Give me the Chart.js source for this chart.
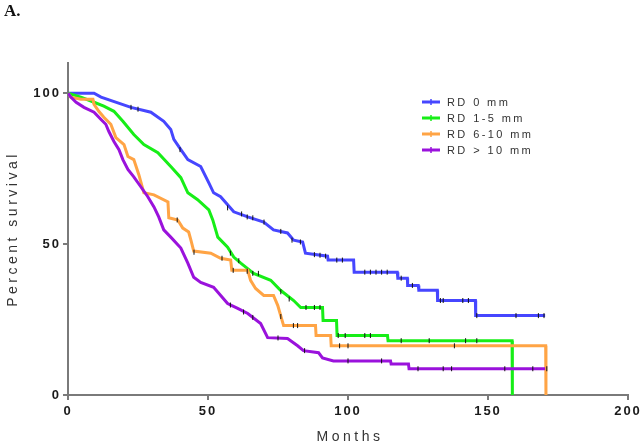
<!DOCTYPE html>
<html>
<head>
<meta charset="utf-8">
<script src="https://cdn.jsdelivr.net/npm/chart.js@4.4.0/dist/chart.umd.min.js"></script>
<style>
  html, body { margin: 0; padding: 0; background: #fff; }
</style>
</head>
<body>
<canvas id="kmChart" width="644" height="446"></canvas>
<script>
// Kaplan-Meier curves (months, percent survival)
const groupLabels = ['RD 0 mm', 'RD 1-5 mm', 'RD 6-10 mm', 'RD > 10 mm'];
const groupColors = ['#4646ff', '#17ee17', '#ffa445', '#9a12dc'];

const rd0Months = [0, 9.3, 11.8, 22.5, 29.6, 34.2, 36.7, 37.8, 40.3, 42.8, 47.4, 50.3, 52, 54.5, 59.2, 64.2, 69.9, 73.4, 78.4, 80.6, 83.8, 84.8, 92.7, 92.9, 102, 102.2, 117.6, 117.8, 121.2, 121.3, 125.1, 125.3, 131.9, 132, 145.5, 145.6, 170.4];
const rd0Survival = [100, 100, 98.7, 95.3, 93.7, 90.7, 88, 84.7, 81.3, 78, 75.7, 70.3, 67, 65.7, 60.7, 59, 57.3, 54.7, 53.7, 51.3, 50.7, 47, 46, 44.7, 44.7, 40.7, 40.7, 38.7, 38.7, 36.3, 36.3, 34.7, 34.7, 31.3, 31.3, 26.3, 26.3];

const rd15Months = [0, 4.6, 9.3, 12.8, 16.4, 19.6, 23.5, 27.1, 32.1, 36.7, 40.3, 42.8, 46.3, 50.3, 51.7, 53.5, 57, 59.2, 61.7, 66.3, 72.4, 75.9, 80.6, 83.1, 90.9, 91.1, 95.9, 96.1, 114.1, 114.3, 158.6, 158.7];
const rd15Survival = [100, 98.7, 97, 95.7, 94, 90.7, 86.3, 83, 80.3, 75.7, 72, 67, 64.7, 61.3, 58, 52.3, 49, 45.7, 43.7, 40.3, 38, 34.7, 31.3, 29, 29, 24.7, 24.7, 19.7, 19.7, 18, 18, 0];

const rd610Months = [0, 1, 4.6, 8.9, 9.3, 11, 12.8, 15.3, 17.1, 20, 21.4, 23.5, 25.3, 27.1, 30.7, 35.7, 36, 39.2, 41, 43.1, 43.9, 44.9, 51, 54.5, 58.1, 58.5, 64.2, 65.2, 67, 69.9, 73.4, 74.9, 77, 88.4, 88.6, 93.8, 94, 170.6, 170.7];
const rd610Survival = [100, 98.7, 98, 98, 96.3, 94, 92, 89.7, 85.3, 83, 79, 78, 73, 67, 66.3, 64, 58.7, 58, 55.3, 54, 51.3, 47.7, 47, 45.3, 44.7, 41.3, 41.3, 38, 35.3, 33, 33, 29.7, 23, 23, 19.7, 19.7, 16.3, 16.3, 0];

const rd10Months = [0, 1, 2.9, 5.7, 9.3, 11.8, 13.5, 14.6, 16.4, 18.2, 19.6, 21.4, 23.5, 26, 28.5, 30.7, 32.4, 34.2, 36.7, 40.3, 42.8, 44.9, 47.4, 52, 57, 60.6, 64.2, 68.8, 71.3, 78.4, 82, 84.1, 89.5, 90.9, 94.8, 115.2, 115.4, 121.6, 121.8, 170.4];
const rd10Survival = [100, 98.7, 97, 95.3, 93.7, 91.3, 89.7, 87.3, 84, 81.3, 78, 74.7, 72.3, 69, 65.7, 62.3, 59, 54.7, 52.3, 48.7, 43.7, 39, 37.3, 35.7, 30.3, 28.7, 27, 23.7, 19, 18.7, 16.3, 14.7, 14, 12.3, 11.3, 11.3, 10.3, 10.3, 8.7, 8.7];

// censored observations (black ticks)
const rd0CensorMonths = [22.5, 25, 40, 57, 62, 64, 66, 70, 76, 80, 83, 88, 90, 92, 96, 98, 106, 108, 110, 112, 114, 119, 123, 133, 134, 141, 143, 146, 160, 168, 170];
const rd0CensorSurvival = [95.3, 94.7, 81.3, 62, 60, 59, 58.7, 57.3, 54.2, 51.3, 50.7, 46.5, 46.3, 46, 44.7, 44.7, 40.7, 40.7, 40.7, 40.7, 40.7, 38.7, 36.3, 31.3, 31.3, 31.3, 31.3, 26.3, 26.3, 26.3, 26.3];
const rd15CensorMonths = [58, 61, 64, 66, 68, 76, 79, 85, 88, 90, 96.5, 99, 106, 108, 119, 129, 142, 146];
const rd15CensorSurvival = [47, 44.5, 41, 40.3, 40.3, 34.2, 31.8, 29, 29, 29, 19.7, 19.7, 19.7, 19.7, 18, 18, 18, 18];
const rd610CensorMonths = [39, 45, 55, 59, 76, 80.5, 82, 97, 100, 138];
const rd610CensorSurvival = [58, 47.3, 45.3, 41.3, 26, 23, 23, 16.3, 16.3, 16.3];
const rd10CensorMonths = [58, 62.7, 66, 75, 84.5, 100, 112, 125, 134, 137, 156, 166, 171];
const rd10CensorSurvival = [29.8, 27.5, 25.7, 18.9, 14.7, 11.3, 11.3, 8.7, 8.7, 8.7, 8.7, 8.7, 8.7];

const xTicks = [0, 50, 100, 150, 200];
const yTicks = [0, 50, 100];
const xTitle = 'Months';
const yTitle = 'Percent survival';
const panelLabel = 'A.';

const curves = [
    [rd0Months, rd0Survival],
    [rd15Months, rd15Survival],
    [rd610Months, rd610Survival],
    [rd10Months, rd10Survival]
];
const censors = [
    [rd0CensorMonths, rd0CensorSurvival],
    [rd15CensorMonths, rd15CensorSurvival],
    [rd610CensorMonths, rd610CensorSurvival],
    [rd10CensorMonths, rd10CensorSurvival]
];

const toPoints = (xs, ys) => xs.map((x, i) => ({ x: x, y: ys[i] }));

const datasets = [];
curves.forEach((c, i) => {
    datasets.push({
        type: 'line',
        label: groupLabels[i],
        data: toPoints(c[0], c[1]),
        borderColor: groupColors[i],
        borderWidth: 3,
        pointRadius: 0,
        fill: false,
        tension: 0,
        order: 10 - i
    });
});
censors.forEach((c, i) => {
    datasets.push({
        type: 'scatter',
        label: groupLabels[i] + ' censored',
        data: toPoints(c[0], c[1]),
        pointStyle: 'line',
        rotation: 90,
        pointRadius: 2.5,
        borderColor: '#111',
        borderWidth: 1,
        order: 0
    });
});

const axisGray = '#7a7a7a';

const overlay = {
    id: 'overlay',
    beforeDraw(chart) {
        chart.ctx.letterSpacing = '2px';
    },
    afterDraw(chart) {
        const c = chart.ctx;
        const a = chart.chartArea;
        c.save();
        c.letterSpacing = '0px';
        c.fillStyle = '#111';
        c.font = 'bold 17px "Liberation Serif"';
        c.textAlign = 'left';
        c.textBaseline = 'middle';
        c.fillText(panelLabel, 4, 12);

        c.font = '14px "Liberation Sans"';
        c.letterSpacing = '3.5px';
        c.fillStyle = '#333';
        c.textAlign = 'center';
        c.fillText(xTitle, (a.left + a.right) / 2 + 2, 437);
        c.save();
        c.translate(13, (a.top + a.bottom) / 2);
        c.rotate(-Math.PI / 2);
        c.fillText(yTitle, 0, 0);
        c.restore();

        // legend
        c.font = '11px "Liberation Sans"';
        c.letterSpacing = '2.4px';
        c.textAlign = 'left';
        groupLabels.forEach((lab, i) => {
            const y = 102 + i * 16;
            c.strokeStyle = groupColors[i];
            c.lineWidth = 3;
            c.beginPath();
            c.moveTo(422, y);
            c.lineTo(440, y);
            c.stroke();
            c.lineWidth = 1.5;
            c.beginPath();
            c.moveTo(431, y - 3);
            c.lineTo(431, y + 3);
            c.stroke();
            c.fillStyle = '#333';
            c.fillText(lab, 447, y + 0.5);
        });
        c.restore();
    }
};

const ctx = document.getElementById('kmChart').getContext('2d');
const kmChart = new Chart(ctx, {
    data: { datasets: datasets },
    options: {
        responsive: false,
        animation: false,
        layout: { padding: { top: 63, right: 16, left: 0, bottom: 0 } },
        scales: {
            x: {
                type: 'linear',
                min: 0,
                max: 200,
                afterBuildTicks: (axis) => { axis.ticks = xTicks.map(v => ({ value: v })); },
                afterFit: (axis) => { axis.height = 51; },
                grid: { display: true, drawOnChartArea: false, drawTicks: true, tickLength: 5, color: axisGray, lineWidth: 2 },
                border: { display: true, color: axisGray, width: 2 },
                ticks: {
                    padding: 4,
                    color: '#1a1a1a',
                    font: { size: 13, weight: 'bold', family: '"Liberation Sans"' }
                }
            },
            y: {
                type: 'linear',
                min: 0,
                max: 110,
                afterBuildTicks: (axis) => { axis.ticks = yTicks.map(v => ({ value: v })); },
                afterFit: (axis) => { axis.width = 68; },
                grid: { display: true, drawOnChartArea: false, drawTicks: true, tickLength: 5, color: axisGray, lineWidth: 2 },
                border: { display: true, color: axisGray, width: 2 },
                ticks: {
                    padding: 2,
                    color: '#1a1a1a',
                    font: { size: 13, weight: 'bold', family: '"Liberation Sans"' }
                }
            }
        },
        plugins: {
            legend: { display: false },
            tooltip: { enabled: false }
        }
    },
    plugins: [overlay]
});
</script>
</body>
</html>
